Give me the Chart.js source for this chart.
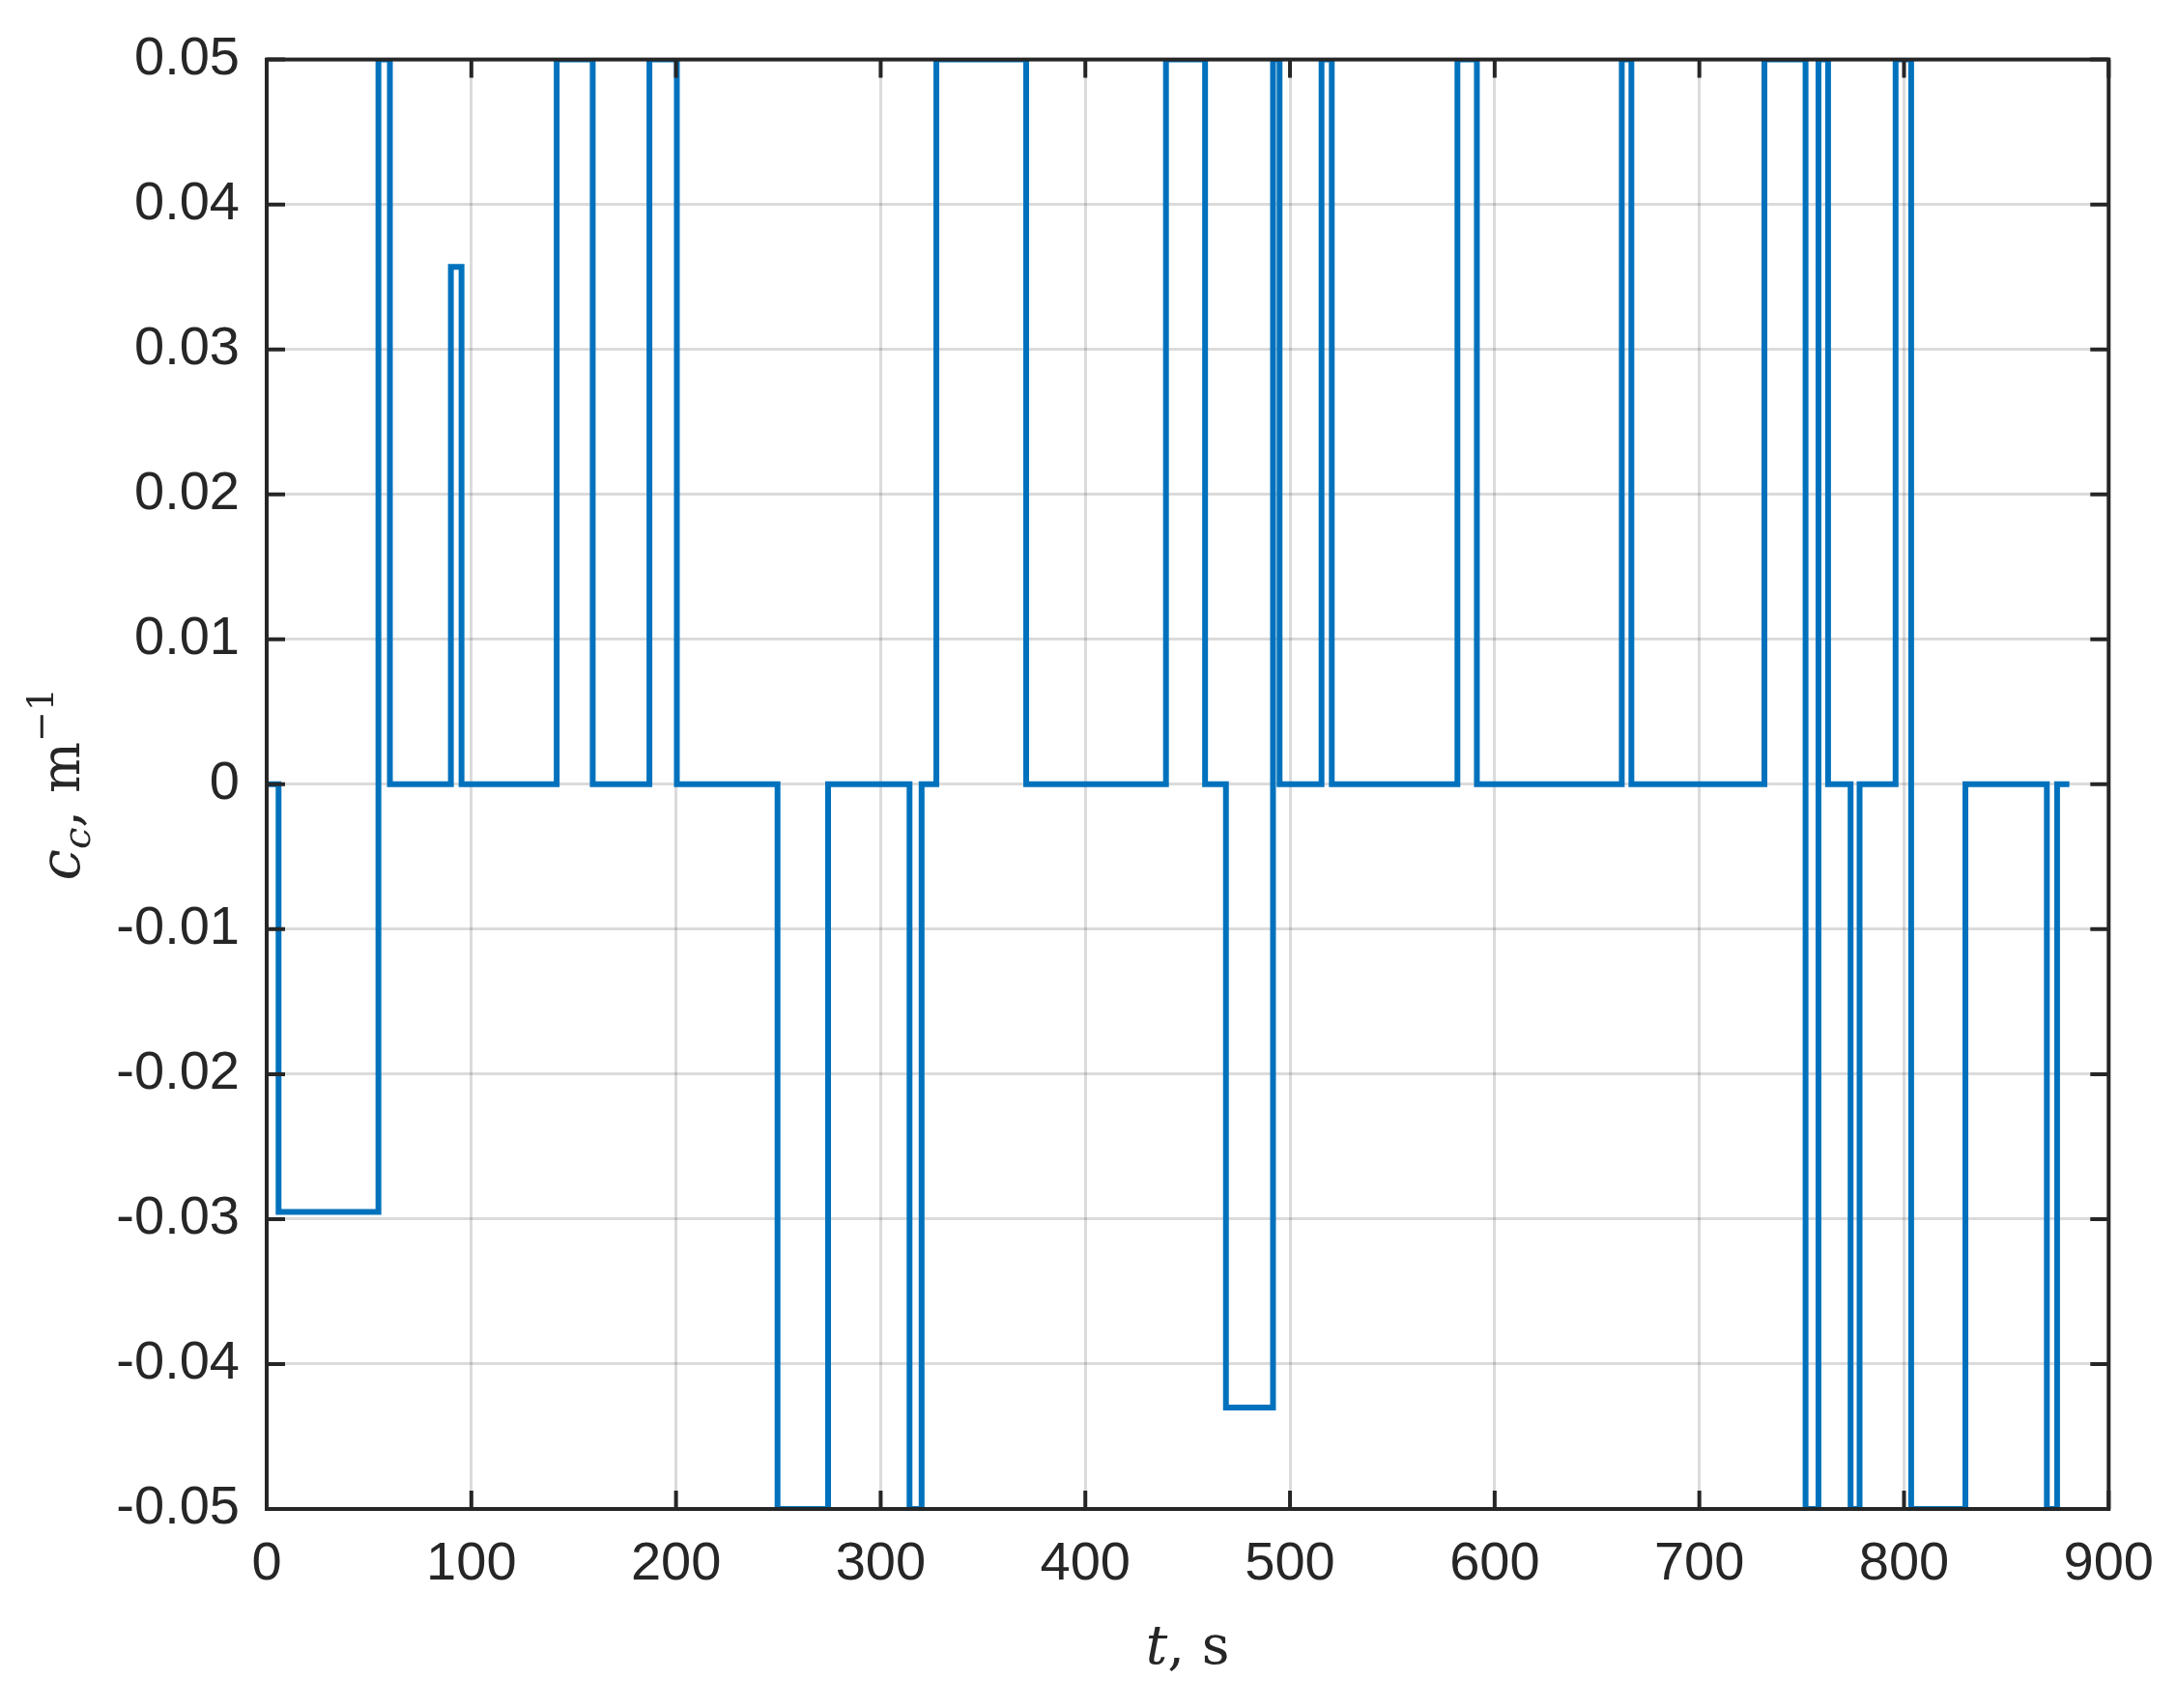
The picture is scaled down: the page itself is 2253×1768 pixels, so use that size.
<!DOCTYPE html>
<html><head><meta charset="utf-8">
<script src="https://cdn.jsdelivr.net/npm/chart.js@4/dist/chart.umd.min.js"></script>
<style>html,body{margin:0;padding:0;background:#fff}</style>
</head><body>
<canvas id="c" width="2253" height="1768"></canvas>
<script>
// switch times (s) and the level held after each switch (m^-1)
const switchTimes = [0, 5.8, 54.6, 60.2, 90.0, 95.2, 141.7, 159.3, 187.0, 200.4, 249.6, 274.3, 314.1, 320.0, 327.2, 371.1, 439.4, 458.5, 468.7, 491.7, 494.9, 515.4, 520.4, 581.8, 591.3, 662.1, 666.8, 731.8, 751.9, 758.2, 762.9, 773.9, 778.3, 795.9, 803.5, 830.0, 869.8, 874.8];
const levels      = [0, -0.0295, 0.05, 0, 0.0357, 0, 0.05, 0, 0.05, 0, -0.05, 0, -0.05, 0, 0.05, 0, 0.05, 0, -0.043, 0.05, 0, 0.05, 0, 0.05, 0, 0.05, 0, 0.05, -0.05, 0.05, 0, -0.05, 0, 0.05, -0.05, 0, -0.05, 0];
const endTime = 880.8;
const xTicks = [0,100,200,300,400,500,600,700,800,900];
const yTicks = [-0.05,-0.04,-0.03,-0.02,-0.01,0,0.01,0.02,0.03,0.04,0.05];

const pts = [];
for (let i = 0; i < switchTimes.length; i++) {
  if (i > 0) pts.push({x: switchTimes[i], y: levels[i-1]});
  pts.push({x: switchTimes[i], y: levels[i]});
}
pts.push({x: endTime, y: levels[levels.length-1]});

const frame = {
  id: 'frame',
  afterDraw(chart) {
    const {ctx, chartArea: a, scales} = chart;
    ctx.save();
    ctx.strokeStyle = '#262626';
    ctx.lineWidth = 4;
    ctx.strokeRect(a.left, a.top, a.right - a.left, a.bottom - a.top);
    const L = 19;
    ctx.beginPath();
    xTicks.forEach(v => { const x = scales.x.getPixelForValue(v);
      ctx.moveTo(x, a.bottom); ctx.lineTo(x, a.bottom - L);
      ctx.moveTo(x, a.top); ctx.lineTo(x, a.top + L); });
    yTicks.forEach(v => { const y = scales.y.getPixelForValue(v);
      ctx.moveTo(a.left, y); ctx.lineTo(a.left + L, y);
      ctx.moveTo(a.right, y); ctx.lineTo(a.right - L, y); });
    ctx.stroke();
    ctx.fillStyle = '#262626';
    ctx.textBaseline = 'alphabetic';
    const cx = (a.left + a.right) / 2;
    ctx.font = 'italic 56px "DejaVu Serif"';
    const w1 = ctx.measureText('t').width;
    ctx.font = '56px "DejaVu Serif"';
    const w2 = ctx.measureText(', s').width;
    let x0 = cx - (w1 + w2) / 2;
    ctx.font = 'italic 56px "DejaVu Serif"'; ctx.textAlign = 'left';
    ctx.fillText('t', x0, 1722);
    ctx.font = '56px "DejaVu Serif"';
    ctx.fillText(', s', x0 + w1, 1722);
    ctx.translate(82, (a.top + a.bottom) / 2);
    ctx.rotate(-Math.PI / 2);
    const parts = [
      {t:'c', f:'italic 58px "DejaVu Serif"', dy:0},
      {t:'c', f:'italic 40px "DejaVu Serif"', dy:11},
      {t:', m', f:'56px "DejaVu Serif"', dy:0},
      {t:'\u22121', f:'38px "DejaVu Serif"', dy:-27}
    ];
    let tw = 0;
    parts.forEach(p => { ctx.font = p.f; p.w = ctx.measureText(p.t).width; tw += p.w; });
    let px = -tw / 2;
    parts.forEach(p => { ctx.font = p.f; ctx.fillText(p.t, px, p.dy); px += p.w; });
    ctx.restore();
  }
};

new Chart(document.getElementById('c'), {
  type: 'line',
  data: { datasets: [{ data: pts, borderColor: '#0072BD', borderWidth: 6, pointRadius: 0, fill: false, tension: 0 }] },
  options: {
    responsive: false, devicePixelRatio: 1, animation: false,
    layout: { padding: { top: 55, right: 69, left: 0, bottom: 0 } },
    plugins: { legend: { display: false }, tooltip: { enabled: false } },
    scales: {
      x: { type: 'linear', min: 0, max: 900,
        afterBuildTicks: s => { s.ticks = xTicks.map(v => ({value: v})); },
        afterFit: s => { s.height = 206; },
        grid: { color: 'rgba(0,0,0,0.14)', lineWidth: 3, drawTicks: false },
        border: { display: false },
        ticks: { padding: 24, color: '#262626', font: { family: '"Liberation Sans", Arial', size: 56 }, maxRotation: 0 } },
      y: { type: 'linear', min: -0.05, max: 0.05,
        afterBuildTicks: s => { s.ticks = yTicks.map(v => ({value: v})); },
        afterFit: s => { s.width = 276; },
        grid: { color: 'rgba(0,0,0,0.14)', lineWidth: 3, drawTicks: false },
        border: { display: false },
        ticks: { padding: 28, color: '#262626', font: { family: '"Liberation Sans", Arial', size: 56 },
          callback: v => { const r = Math.round(v * 100) / 100; return r === 0 ? '0' : r.toFixed(2); } } }
    }
  },
  plugins: [frame]
});
</script>
</body></html>
